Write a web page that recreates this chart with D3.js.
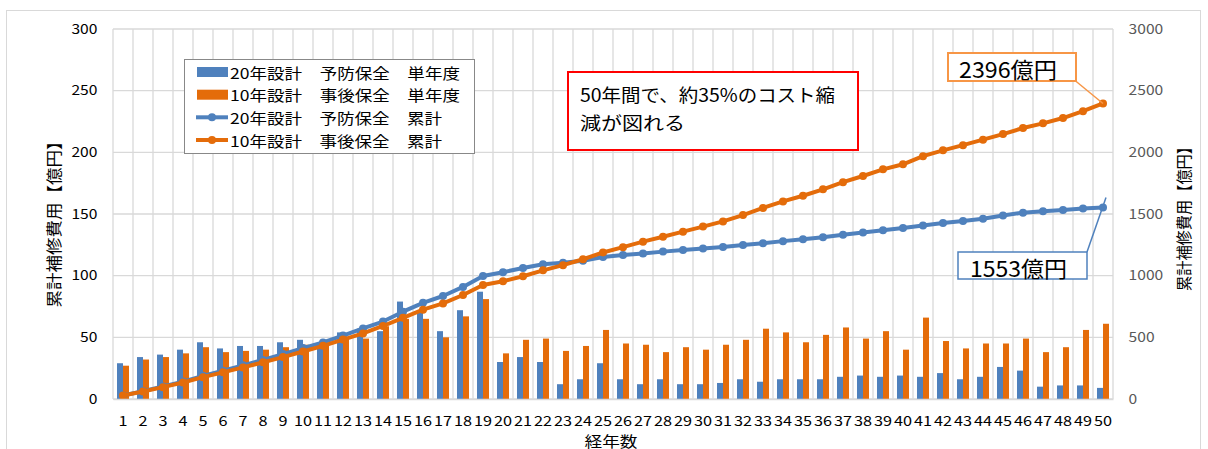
<!DOCTYPE html>
<html>
<head>
<meta charset="utf-8">
<script src="https://cdn.jsdelivr.net/npm/d3@7"></script>
<style>
  body { margin: 0; background: #fff; }
  svg { display: block; font-family: "Noto Sans CJK JP", "Noto Sans", sans-serif; }
</style>
</head>
<body>
<svg width="1208" height="449"></svg>
<script>
const years = [1, 2, 3, 4, 5, 6, 7, 8, 9, 10, 11, 12, 13, 14, 15, 16, 17, 18, 19, 20,
  21, 22, 23, 24, 25, 26, 27, 28, 29, 30, 31, 32, 33, 34, 35, 36, 37, 38, 39, 40,
  41, 42, 43, 44, 45, 46, 47, 48, 49, 50];

// single-year cost (left axis)
const yearlyPreventive = [29, 34, 36, 40, 46, 41, 43, 43, 46, 48, 46, 54, 57, 55, 79, 70, 55, 72, 87, 30,
  34, 30, 12, 16, 29, 16, 12, 16, 12, 12, 13, 16, 14, 16, 16, 16, 18, 19, 18, 19,
  18, 21, 16, 18, 26, 23, 10, 11, 11, 9];
const yearlyReactive = [27, 32, 34, 37, 42, 38, 39, 40, 42, 44, 45, 50, 49, 59, 65, 65, 50, 67, 81, 37,
  48, 49, 39, 43, 56, 45, 44, 38, 42, 40, 44, 48, 57, 54, 46, 52, 58, 49, 55, 40,
  66, 47, 41, 45, 45, 49, 38, 42, 56, 61];

// cumulative cost (right axis)
const totalPreventive = [29, 64, 101, 141, 188, 230, 273, 317, 364, 413, 459, 514, 572, 628, 708, 780, 835, 909, 997, 1028,
  1062, 1093, 1105, 1121, 1151, 1167, 1179, 1195, 1208, 1220, 1233, 1249, 1263, 1280, 1296, 1312, 1331, 1350, 1368, 1387,
  1406, 1427, 1443, 1462, 1488, 1511, 1522, 1533, 1544, 1553];
const totalReactive = [28, 61, 96, 134, 177, 216, 256, 297, 340, 385, 431, 482, 532, 592, 658, 724, 775, 843, 925, 955,
  995, 1043, 1085, 1133, 1188, 1231, 1276, 1316, 1357, 1398, 1440, 1491, 1549, 1602, 1648, 1700, 1758, 1808, 1862, 1903,
  1969, 2016, 2058, 2103, 2148, 2197, 2235, 2278, 2334, 2396];

const leftTicks = [0, 50, 100, 150, 200, 250, 300];
const rightTicks = [0, 500, 1000, 1500, 2000, 2500, 3000];
const seriesNames = ["20年設計　予防保全　単年度", "10年設計　事後保全　単年度",
  "20年設計　予防保全　累計", "10年設計　事後保全　累計"];
const axisTitle = "累計補修費用【億円】";
const xTitle = "経年数";
const noteLines = ["50年間で、約35%のコスト縮", "減が図れる"];
const endLabels = ["2396億円", "1553億円"];

const BLUE = "#4F81BD";
const ORANGE = "#E46C0A";
const GRID = "#D9D9D9";
const PLOT = { left: 113, right: 1113, top: 29, bottom: 399 };

const svg = d3.select("svg");

// chart area border
svg.append("rect")
  .attr("x", 6.5).attr("y", 10.5)
  .attr("width", 1194).attr("height", 460)
  .attr("fill", "none").attr("stroke", GRID);

const x = d3.scaleBand()
  .domain(years)
  .range([PLOT.left, PLOT.right])
  .paddingInner(0.4)
  .paddingOuter(0.2);
const xInner = d3.scaleBand().domain([0, 1]).range([0, x.bandwidth()]);
const yLeft = d3.scaleLinear().domain([0, 300]).range([PLOT.bottom, PLOT.top]);
const yRight = d3.scaleLinear().domain([0, 3000]).range([PLOT.bottom, PLOT.top]);
const cx = d => x(d) + x.bandwidth() / 2;

// gridlines
const grid = svg.append("g").attr("stroke", GRID).attr("stroke-width", 1.3);
grid.selectAll(".h").data(leftTicks).join("line")
  .attr("x1", PLOT.left).attr("x2", PLOT.right)
  .attr("y1", d => yLeft(d)).attr("y2", d => yLeft(d));
grid.selectAll(".v").data(years).join("line")
  .attr("x1", d => x(d) - x.step() * 0.2).attr("x2", d => x(d) - x.step() * 0.2)
  .attr("y1", PLOT.top).attr("y2", PLOT.bottom);
grid.append("line")
  .attr("x1", PLOT.right).attr("x2", PLOT.right)
  .attr("y1", PLOT.top).attr("y2", PLOT.bottom);

// bars
const barSets = [yearlyPreventive, yearlyReactive];
const barColors = [BLUE, ORANGE];
barSets.forEach((vals, k) => {
  svg.append("g").selectAll("rect").data(years).join("rect")
    .attr("x", (d, i) => x(d) + xInner(k))
    .attr("width", xInner.bandwidth())
    .attr("y", (d, i) => yLeft(vals[i]))
    .attr("height", (d, i) => yLeft(0) - yLeft(vals[i]))
    .attr("fill", barColors[k]);
});

// cumulative lines
const lineSets = [totalPreventive, totalReactive];
lineSets.forEach((vals, k) => {
  const pts = years.map((d, i) => [cx(d), yRight(vals[i])]);
  svg.append("path")
    .attr("d", d3.line()(pts))
    .attr("fill", "none")
    .attr("stroke", barColors[k])
    .attr("stroke-width", 4)
    .attr("stroke-linejoin", "round");
  svg.append("g").selectAll("circle").data(pts).join("circle")
    .attr("cx", p => p[0]).attr("cy", p => p[1])
    .attr("r", 4).attr("fill", barColors[k]);
});

// axes
const fontFam = '"Noto Sans CJK JP", "Noto Sans", sans-serif';
const gL = svg.append("g")
  .attr("transform", `translate(${PLOT.left},0)`)
  .call(d3.axisLeft(yLeft).tickValues(leftTicks).tickFormat(d3.format("d")).tickSize(0).tickPadding(13));
gL.select(".domain").remove();
gL.attr("font-family", fontFam).attr("font-size", 13);
gL.selectAll("text").attr("fill", "#000").attr("transform", "scale(1.2,1)");

const gR = svg.append("g")
  .attr("transform", `translate(${PLOT.right},0)`)
  .call(d3.axisRight(yRight).tickValues(rightTicks).tickFormat(d3.format("d")).tickSize(0).tickPadding(13));
gR.select(".domain").remove();
gR.attr("font-family", fontFam).attr("font-size", 13);
gR.selectAll("text").attr("fill", "#595959").attr("transform", "scale(1.2,1)");

const gB = svg.append("g")
  .attr("transform", `translate(0,${PLOT.bottom})`)
  .call(d3.axisBottom(x).tickSize(0).tickPadding(18));
gB.select(".domain").attr("stroke", GRID).attr("stroke-width", 1.3);
gB.attr("font-family", fontFam).attr("font-size", 13);
gB.selectAll("text").attr("fill", "#000").attr("transform", "scale(1.25,1)");

// axis titles
function vTitle(px, py, len) {
  svg.append("text")
    .attr("transform", `translate(${px},${py}) rotate(-90)`)
    .attr("text-anchor", "middle")
    .attr("dominant-baseline", "central")
    .attr("font-size", 16)
    .attr("textLength", len)
    .attr("lengthAdjust", "spacingAndGlyphs")
    .text(axisTitle);
}
vTitle(53, 220, 175);
vTitle(1183, 215, 152);

svg.append("text")
  .attr("x", 611).attr("y", 440)
  .attr("text-anchor", "middle")
  .attr("dominant-baseline", "central")
  .attr("font-size", 15)
  .attr("textLength", 53)
  .attr("lengthAdjust", "spacingAndGlyphs")
  .text(xTitle);

// legend
const legend = svg.append("g");
legend.append("rect")
  .attr("x", 184.5).attr("y", 59.5).attr("width", 290).attr("height", 94)
  .attr("fill", "#fff").attr("stroke", "#888");
const rowY = [72, 94.7, 117.3, 140];
const rowLen = [230, 230, 212, 212];
seriesNames.forEach((name, i) => {
  const col = barColors[i % 2];
  if (i < 2) {
    legend.append("rect")
      .attr("x", 197).attr("y", rowY[i] - 5).attr("width", 31).attr("height", 10)
      .attr("fill", col);
  } else {
    legend.append("line")
      .attr("x1", 196).attr("x2", 228).attr("y1", rowY[i]).attr("y2", rowY[i])
      .attr("stroke", col).attr("stroke-width", 4);
    legend.append("circle")
      .attr("cx", 212).attr("cy", rowY[i]).attr("r", 4).attr("fill", col);
  }
  legend.append("text")
    .attr("x", 230).attr("y", rowY[i])
    .attr("dominant-baseline", "central")
    .attr("font-size", 15)
    .attr("textLength", rowLen[i])
    .attr("lengthAdjust", "spacingAndGlyphs")
    .text(name);
});

// red note box
svg.append("rect")
  .attr("x", 568).attr("y", 72).attr("width", 290).attr("height", 78)
  .attr("fill", "#fff").attr("stroke", "#FF0000").attr("stroke-width", 2);
const noteLen = [255, 105];
noteLines.forEach((t, i) => {
  svg.append("text")
    .attr("x", 580).attr("y", 94 + i * 28)
    .attr("dominant-baseline", "central")
    .attr("font-size", 18)
    .attr("textLength", noteLen[i])
    .attr("lengthAdjust", "spacingAndGlyphs")
    .text(t);
});

// end value callouts
const last = years[years.length - 1];
const oEnd = [cx(last), yRight(totalReactive[totalReactive.length - 1])];
const bEnd = [cx(last), yRight(totalPreventive[totalPreventive.length - 1])];

svg.append("line")
  .attr("x1", 1075).attr("y1", 80.5).attr("x2", oEnd[0]).attr("y2", oEnd[1])
  .attr("stroke", "#F79646").attr("stroke-width", 1.5);
svg.append("rect")
  .attr("x", 948).attr("y", 53).attr("width", 128).attr("height", 28)
  .attr("fill", "#fff").attr("stroke", "#F79646").attr("stroke-width", 2);
svg.append("text")
  .attr("x", 959).attr("y", 67.5)
  .attr("dominant-baseline", "central")
  .attr("font-size", 22)
  .attr("textLength", 98)
  .attr("lengthAdjust", "spacingAndGlyphs")
  .text(endLabels[0]);

svg.append("line")
  .attr("x1", 1087).attr("y1", 252).attr("x2", bEnd[0] + 3).attr("y2", bEnd[1] - 10)
  .attr("stroke", BLUE).attr("stroke-width", 1.5);
svg.append("rect")
  .attr("x", 958).attr("y", 252).attr("width", 129).attr("height", 27)
  .attr("fill", "#fff").attr("stroke", BLUE).attr("stroke-width", 1.5);
svg.append("text")
  .attr("x", 970).attr("y", 266.5)
  .attr("dominant-baseline", "central")
  .attr("font-size", 22)
  .attr("textLength", 97)
  .attr("lengthAdjust", "spacingAndGlyphs")
  .text(endLabels[1]);
</script>
</body>
</html>
